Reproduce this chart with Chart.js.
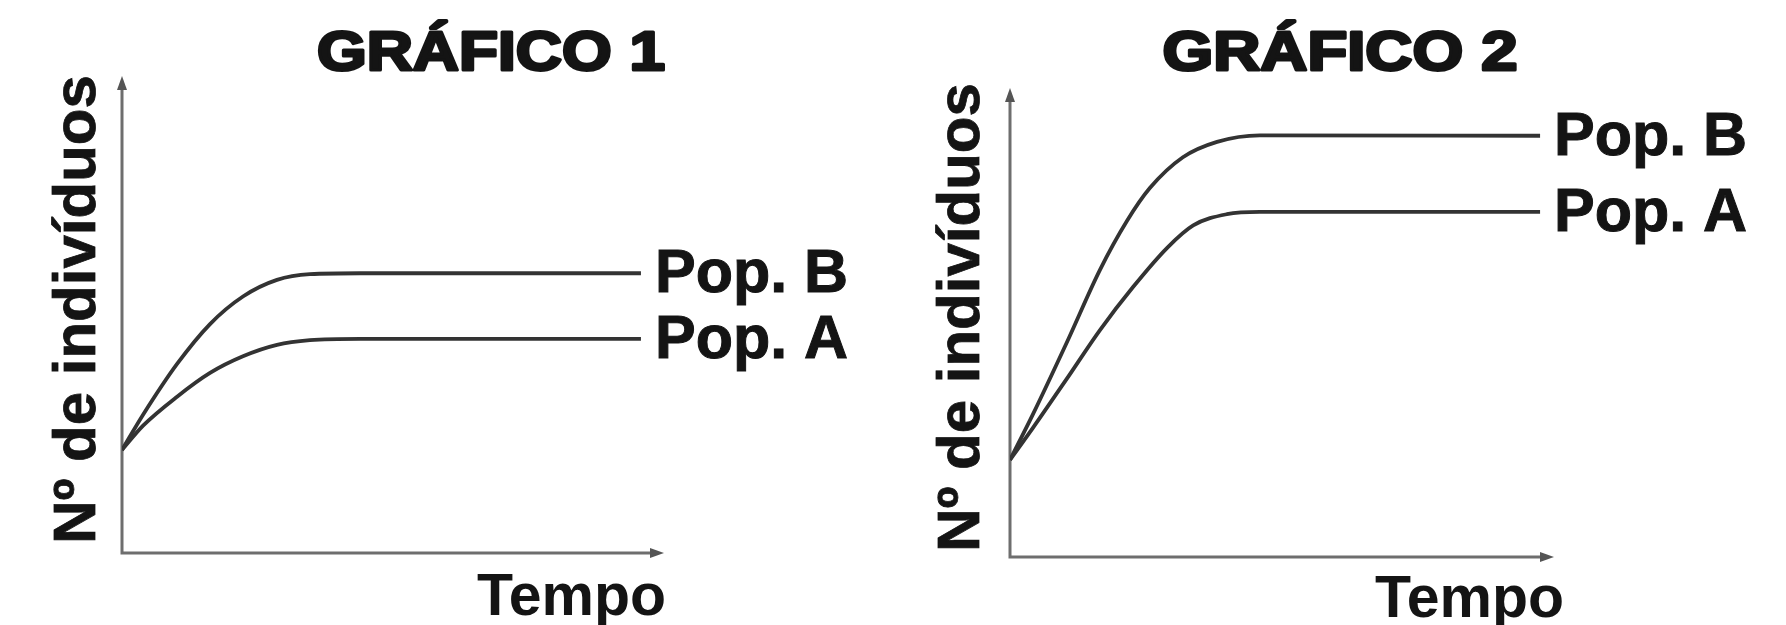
<!DOCTYPE html>
<html>
<head>
<meta charset="utf-8">
<script src="https://cdn.jsdelivr.net/npm/chart.js@4.4.1/dist/chart.umd.min.js"></script>
<style>
  html, body { margin: 0; padding: 0; background: #fff; }
  #wrap { position: relative; width: 1786px; height: 625px; overflow: hidden; }
  .box { position: absolute; top: 0; width: 893px; height: 625px; }
</style>
</head>
<body>
<div id="wrap">
  <div class="box" style="left:0"><canvas id="g1" width="893" height="625"></canvas></div>
  <div class="box" style="left:893px"><canvas id="g2" width="893" height="625"></canvas></div>
</div>
<script>
// text
const titles = ['GRÁFICO 1', 'GRÁFICO 2'];
const yLabel = 'Nº de indivíduos';
const xLabel = 'Tempo';
const seriesNames = ['Pop. A', 'Pop. B'];

// gráfico 1 (axis units 0..100)
const g1TimeA = [0, 3.9, 10.2, 16.3, 22.4, 28.7, 34.8, 44.1, 96.1];
const g1PopA  = [21.7, 26.8, 32.9, 37.9, 41.4, 43.8, 44.8, 45.1, 45.1];
const g1TimeB = [0, 3.9, 10.2, 16.3, 22.4, 28.7, 34.8, 44.1, 96.1];
const g1PopB  = [21.7, 29.1, 39.8, 48.2, 54.0, 57.5, 58.7, 58.9, 58.9];

// gráfico 2
const g2TimeA = [0, 4.2, 10.5, 16.6, 22.7, 29.0, 33.8, 40.0, 46.1, 97.8];
const g2PopA  = [20.8, 27.6, 38.2, 48.6, 57.8, 66.2, 71.0, 73.4, 73.9, 73.9];
const g2TimeB = [0, 4.2, 10.5, 16.6, 21.6, 25.8, 31.9, 38.2, 46.1, 97.8];
const g2PopB  = [20.8, 30.5, 46.0, 61.5, 72.0, 79.0, 85.6, 88.9, 90.3, 90.2];

const INK = '#141414';
const LINE = '#333333';
const AXIS = '#6e6e6e';

function pairs(xs, ys) {
    return xs.map((x, i) => ({ x: x, y: ys[i] }));
}

// draws axes with arrows, title, axis labels and series labels
const sketchPlugin = {
    id: 'sketch',
    beforeDatasetsDraw(chart, args, o) {
        const ctx = chart.ctx;
        const a = chart.chartArea;
        ctx.save();
        ctx.strokeStyle = AXIS;
        ctx.fillStyle = '#555';
        ctx.lineWidth = 3;
        ctx.beginPath();
        ctx.moveTo(a.left, a.top + 6);
        ctx.lineTo(a.left, a.bottom);
        ctx.lineTo(a.right - 6, a.bottom);
        ctx.stroke();
        // arrow heads
        ctx.beginPath();
        ctx.moveTo(a.left, a.top - 2);
        ctx.lineTo(a.left - 5, a.top + 12);
        ctx.lineTo(a.left + 5, a.top + 12);
        ctx.closePath();
        ctx.fill();
        ctx.beginPath();
        ctx.moveTo(a.right + 2, a.bottom);
        ctx.lineTo(a.right - 12, a.bottom - 5);
        ctx.lineTo(a.right - 12, a.bottom + 5);
        ctx.closePath();
        ctx.fill();
        ctx.restore();
    },
    afterDraw(chart, args, o) {
        const ctx = chart.ctx;
        const a = chart.chartArea;
        ctx.save();
        ctx.fillStyle = INK;
        ctx.strokeStyle = INK;

        // title, stretched a bit to look heavier
        ctx.font = 'bold 55px "Liberation Sans", Arial, sans-serif';
        ctx.textAlign = 'center';
        ctx.textBaseline = 'alphabetic';
        const w0 = ctx.measureText(o.title).width;
        ctx.save();
        ctx.translate(o.titleX, o.titleBase);
        ctx.scale(o.titleW / w0, 1);
        ctx.lineWidth = 3;
        ctx.lineJoin = 'round';
        ctx.fillText(o.title, 0, 0);
        ctx.strokeText(o.title, 0, 0);
        ctx.restore();

        // y label
        ctx.save();
        ctx.font = 'bold 60px "Liberation Sans", Arial, sans-serif';
        ctx.translate(o.yLabX, (a.top + a.bottom) / 2 - 6);
        ctx.rotate(-Math.PI / 2);
        ctx.textAlign = 'center';
        ctx.lineWidth = 0.8;
        ctx.fillText(yLabel, 0, 0);
        ctx.strokeText(yLabel, 0, 0);
        ctx.restore();

        // x label
        ctx.font = 'bold 59px "Liberation Sans", Arial, sans-serif';
        ctx.textAlign = 'left';
        ctx.fillText(xLabel, o.xLabX, o.xLabBase);

        // series labels at the end of each line
        ctx.font = 'bold 61px "Liberation Sans", Arial, sans-serif';
        ctx.lineWidth = 1;
        const ys = chart.scales.y;
        chart.data.datasets.forEach(ds => {
            const last = ds.data[ds.data.length - 1];
            const py = ys.getPixelForValue(last.y);
            ctx.fillText(ds.label, o.popX, py + 19);
            ctx.strokeText(ds.label, o.popX, py + 19);
        });
        ctx.restore();
    }
};

function makeChart(id, timeA, popA, timeB, popB, pad, deco) {
    return new Chart(document.getElementById(id), {
        type: 'line',
        data: {
            datasets: [
                { label: seriesNames[1], data: pairs(timeB, popB) },
                { label: seriesNames[0], data: pairs(timeA, popA) }
            ]
        },
        options: {
            responsive: false,
            animation: false,
            devicePixelRatio: 1,
            layout: { padding: pad },
            elements: {
                line: { borderColor: LINE, borderWidth: 3.8, cubicInterpolationMode: 'monotone', fill: false },
                point: { radius: 0, hoverRadius: 0 }
            },
            scales: {
                x: { type: 'linear', min: 0, max: 100, display: false },
                y: { type: 'linear', min: 0, max: 100, display: false }
            },
            plugins: {
                legend: { display: false },
                tooltip: { enabled: false },
                sketch: deco
            }
        },
        plugins: [sketchPlugin]
    });
}

makeChart('g1', g1TimeA, g1PopA, g1TimeB, g1PopB,
    { left: 122, right: 231, top: 78, bottom: 72 },
    { title: titles[0], titleX: 491, titleBase: 70, titleW: 348, yLabX: 95, xLabX: 477, xLabBase: 615, popX: 655 });

makeChart('g2', g2TimeA, g2PopA, g2TimeB, g2PopB,
    { left: 117, right: 234, top: 90, bottom: 68 },
    { title: titles[1], titleX: 447, titleBase: 70, titleW: 355, yLabX: 86, xLabX: 482, xLabBase: 617, popX: 661 });
</script>
</body>
</html>
